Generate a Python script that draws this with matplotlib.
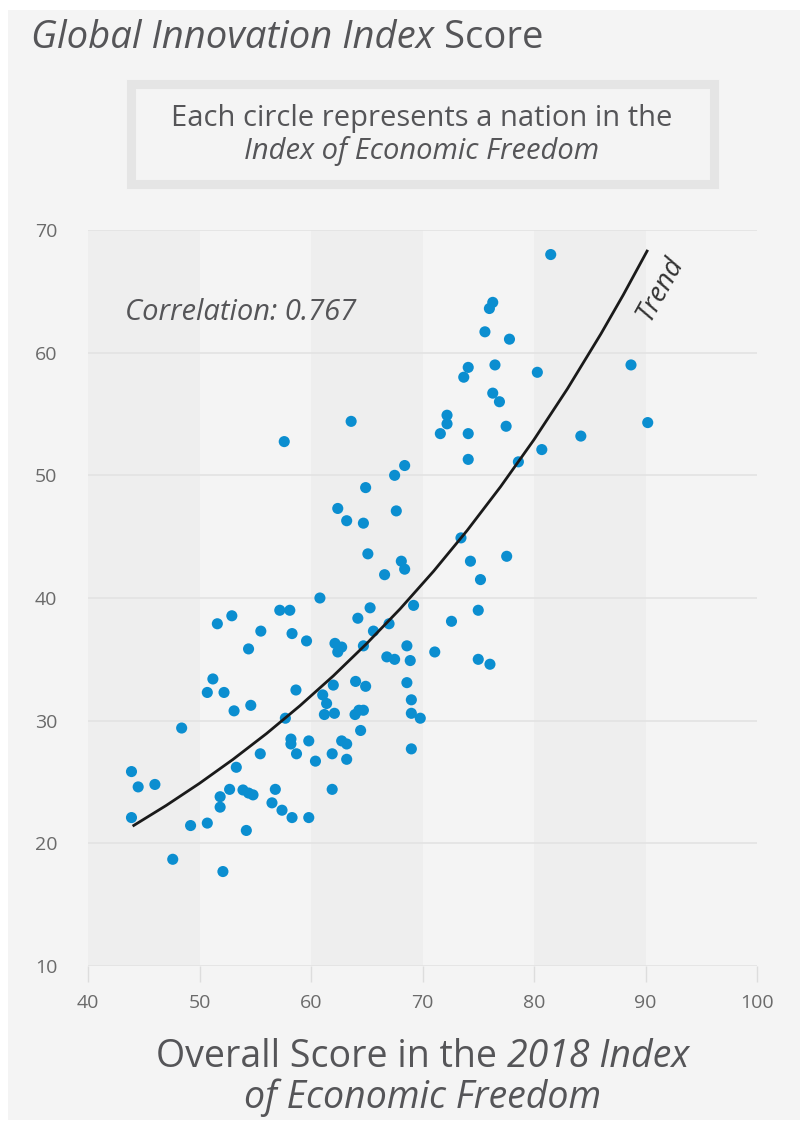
import numpy as np
import matplotlib
matplotlib.use("Agg")
import matplotlib.pyplot as plt
from matplotlib.patches import Rectangle

plt.rcParams["font.family"] = ["Open Sans", "DejaVu Sans"]

# overall score in the 2018 Index of Economic Freedom
econ_freedom = [
    81.5, 76.3, 76.0, 75.6, 77.8, 74.1, 73.7, 76.5, 80.3, 88.7,
    63.6, 76.3, 76.9, 72.2, 72.2, 71.6, 74.1, 77.5, 84.2, 90.2,
    74.1, 80.7, 78.6, 68.4, 67.5, 57.6, 64.9, 62.4, 67.65, 63.2,
    64.7, 65.1, 73.45, 68.1, 68.4, 77.55, 74.3, 66.6, 75.2, 60.8,
    65.3, 69.2, 64.2, 75.0, 72.6, 67.0, 65.6, 52.9, 51.6, 57.2,
    58.1, 55.5, 58.3, 59.6, 54.4, 51.2, 62.15, 62.75, 62.4, 64.7,
    68.6, 71.1, 66.8, 67.5, 68.9, 75.0, 76.05, 62.0, 64.0, 64.9,
    68.6, 50.7, 52.2, 58.65, 54.6, 53.1, 57.7, 61.05, 61.4, 61.2,
    62.1, 63.95, 64.3, 64.7, 69.0, 69.0, 69.8, 64.45, 48.4, 58.2,
    58.2, 59.8, 62.75, 63.2, 58.7, 55.45, 61.9, 60.4, 63.2, 69.0,
    53.3, 61.9, 43.9, 44.5, 46.0, 43.9, 52.7, 51.85, 51.85, 53.9,
    54.4, 54.8, 56.8, 56.5, 57.4, 58.3, 59.8, 49.2, 50.7, 54.2,
    47.6, 52.1,
]
# global innovation index score
innovation = [
    68.0, 64.1, 63.6, 61.7, 61.1, 58.8, 58.0, 59.0, 58.4, 59.0,
    54.4, 56.7, 56.0, 54.9, 54.2, 53.4, 53.4, 54.0, 53.2, 54.3,
    51.3, 52.1, 51.1, 50.8, 50.0, 52.75, 49.0, 47.3, 47.1, 46.3,
    46.1, 43.6, 44.9, 43.0, 42.35, 43.4, 43.0, 41.9, 41.5, 40.0,
    39.2, 39.4, 38.35, 39.0, 38.1, 37.9, 37.3, 38.55, 37.9, 39.0,
    39.0, 37.3, 37.1, 36.5, 35.85, 33.4, 36.3, 36.0, 35.6, 36.1,
    36.1, 35.6, 35.2, 35.0, 34.9, 35.0, 34.6, 32.9, 33.2, 32.8,
    33.1, 32.3, 32.3, 32.5, 31.25, 30.8, 30.2, 32.1, 31.4, 30.5,
    30.6, 30.5, 30.85, 30.85, 31.7, 30.6, 30.2, 29.2, 29.4, 28.5,
    28.1, 28.35, 28.35, 28.1, 27.3, 27.3, 27.3, 26.7, 26.85, 27.7,
    26.2, 24.4, 25.85, 24.6, 24.8, 22.1, 24.4, 23.8, 22.95, 24.35,
    24.1, 23.95, 24.4, 23.3, 22.7, 22.1, 22.1, 21.45, 21.65, 21.05,
    18.7, 17.7,
]

# trend curve
trend_x = [44, 47, 50, 53, 56, 59, 62, 65, 68, 71, 74, 77, 80, 83, 86, 88, 90.2]
trend_y = [21.40, 23.08, 24.89, 26.84, 28.94, 31.21, 33.65, 36.29, 39.12,
           42.19, 45.50, 49.07, 52.91, 57.06, 61.53, 64.70, 68.38]

x_ticks = [40, 50, 60, 70, 80, 90, 100]
y_ticks = [10, 20, 30, 40, 50, 60, 70]
bands = [(40, 50), (60, 70), (80, 90)]

BG = "#f4f4f4"
BAND = "#eeeeee"
GRID = "#e4e4e4"
TEXT = "#555558"
TICK = "#6a6a6a"
DOT = "#0b8ed0"

W, H = 808, 1126
fig = plt.figure(figsize=(W / 100, H / 100), dpi=100, facecolor="white")
fig.patches.append(Rectangle((8 / W, 1 - 1120 / H), 792 / W, 1110 / H,
                             transform=fig.transFigure, facecolor=BG,
                             edgecolor="none", zorder=-10))
# note box
fig.patches.append(Rectangle((130.5 / W, 1 - 183.5 / H), 583 / W, 99 / H,
                             transform=fig.transFigure, facecolor=BG,
                             edgecolor="#e5e5e5", linewidth=6.5, zorder=-5))


def rich(px, py, parts, size, ha="left", color=TEXT):
    # draw a line made of regular / italic pieces, py is the baseline in pixels
    r = fig.canvas.get_renderer()
    objs = [fig.text(0, 1 - py / H, s, fontsize=size, style=st, color=color,
                     va="baseline") for s, st in parts]
    widths = [t.get_window_extent(r).width for t in objs]
    x = px - sum(widths) / 2 if ha == "center" else px
    for t, w in zip(objs, widths):
        t.set_x(x / W)
        x += w


rich(31, 48, [("Global Innovation Index ", "italic"), ("Score", "normal")], 27.5)
rich(422, 126, [("Each circle represents a nation in the", "normal")], 21, ha="center")
rich(422, 159, [("Index of Economic Freedom", "italic")], 21, ha="center")
rich(423, 1067, [("Overall Score in the ", "normal"), ("2018 Index", "italic")], 27, ha="center")
rich(423, 1108, [("of Economic Freedom", "italic")], 27, ha="center")

ax = fig.add_axes([88 / W, 1 - 966 / H, 669 / W, 736 / H])
ax.patch.set_alpha(0)
ax.set_xlim(40, 100)
ax.set_ylim(10, 70)
for a, b in bands:
    ax.axvspan(a, b, color=BAND, lw=0, zorder=0)
for v in y_ticks:
    ax.axhline(v, color=GRID, lw=1.3, zorder=1)

ax.scatter(econ_freedom, innovation, s=64, color=DOT, edgecolors="none", zorder=3)
ax.plot(trend_x, trend_y, color="#1a1a1a", lw=2.0, zorder=4, solid_capstyle="butt")

ax.text(43.3, 63.3, "Correlation: 0.767", fontsize=21, style="italic",
        color=TEXT, va="center", ha="left")
ax.text(91.3, 65.2, "Trend", fontsize=19.5, style="italic", color="#333333",
        rotation=61, ha="center", va="center", rotation_mode="anchor")

for s in ax.spines.values():
    s.set_visible(False)
ax.set_xticks(x_ticks)
ax.set_yticks(y_ticks)
ax.tick_params(axis="x", length=11.5, width=1, color="#dddddd", pad=9,
               labelsize=14, labelcolor=TICK)
ax.tick_params(axis="y", length=0, pad=22, labelsize=14, labelcolor=TICK)

fig.savefig("out.png", dpi=100, facecolor="white")
